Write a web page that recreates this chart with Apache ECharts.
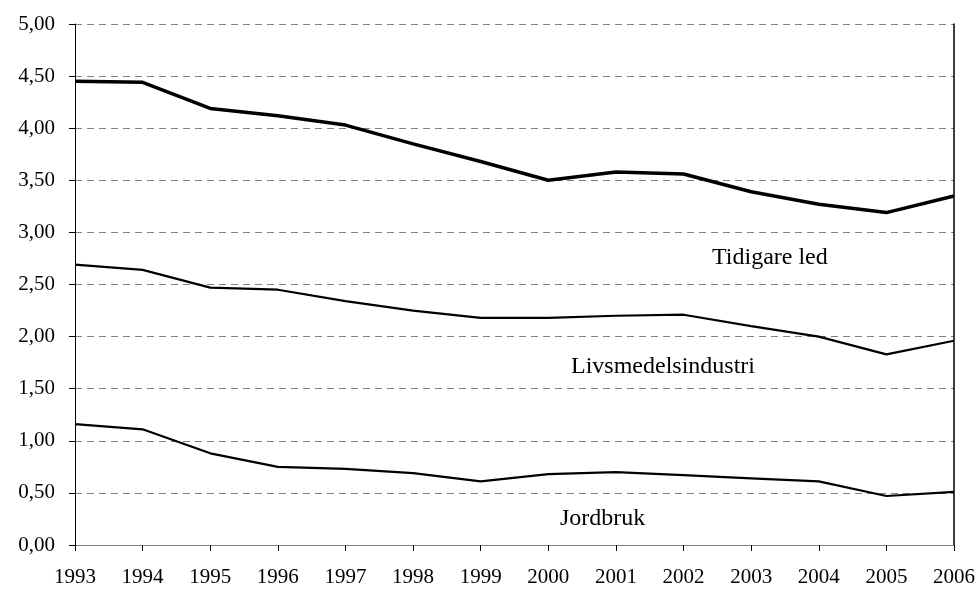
<!DOCTYPE html>
<html>
<head>
<meta charset="utf-8">
<script src="https://cdn.jsdelivr.net/npm/echarts@6/dist/echarts.min.js"></script>
<style>html,body{margin:0;padding:0;background:#fff;}#c{width:980px;height:589px;}</style>
</head>
<body>
<div id="c"></div>
<script>
const years = ['1993','1994','1995','1996','1997','1998','1999','2000','2001','2002','2003','2004','2005','2006'];
const tidigareLed = [4.45, 4.44, 4.19, 4.12, 4.03, 3.85, 3.68, 3.50, 3.58, 3.56, 3.39, 3.27, 3.19, 3.35];
const livsmedelsindustri = [2.69, 2.64, 2.47, 2.45, 2.34, 2.25, 2.18, 2.18, 2.20, 2.21, 2.10, 2.00, 1.83, 1.96];
const jordbruk = [1.16, 1.11, 0.88, 0.75, 0.73, 0.69, 0.61, 0.68, 0.70, 0.67, 0.64, 0.61, 0.47, 0.51];
const seriesNames = ['Tidigare led', 'Livsmedelsindustri', 'Jordbruk'];

const font = 'Liberation Serif';
const chart = echarts.init(document.getElementById('c'), null, {renderer: 'canvas'});
chart.setOption({
  animation: false,
  backgroundColor: '#fff',
  grid: {left: 75, right: 26, top: 24, bottom: 44, containLabel: false},
  xAxis: [{
    type: 'category', data: years, boundaryGap: false,
    axisLine: {lineStyle: {color: '#000', width: 1}},
    axisTick: {show: true, length: 6, lineStyle: {color: '#000'}},
    axisLabel: {color: '#000', fontFamily: font, fontSize: 21, margin: 22},
    splitLine: {show: false}
  }, {
    type: 'category', data: years, boundaryGap: false, position: 'top',
    axisLine: {show: true, lineStyle: {color: '#808080', width: 1}},
    axisTick: {show: false}, axisLabel: {show: false}, splitLine: {show: false}
  }],
  yAxis: [{
    type: 'value', min: 0, max: 5, interval: 0.5,
    axisLine: {show: true, lineStyle: {color: '#000', width: 1}},
    axisTick: {show: true, length: 6, lineStyle: {color: '#000'}},
    axisLabel: {color: '#000', fontFamily: font, fontSize: 21, margin: 20,
      formatter: v => v.toFixed(2).replace('.', ',')},
    splitLine: {show: true, lineStyle: {color: '#808080', type: [7, 5], width: 1}}
  }, {
    type: 'value', min: 0, max: 5, interval: 0.5, position: 'right',
    axisLine: {show: true, lineStyle: {color: '#000', width: 1.5}},
    axisTick: {show: false}, axisLabel: {show: false}, splitLine: {show: false}
  }],
  series: [
    {name: seriesNames[0], type: 'line', data: tidigareLed, symbol: 'none',
     lineStyle: {color: '#000', width: 3.5}, z: 5},
    {name: seriesNames[1], type: 'line', data: livsmedelsindustri, symbol: 'none',
     lineStyle: {color: '#000', width: 2.2}, z: 5},
    {name: seriesNames[2], type: 'line', data: jordbruk, symbol: 'none',
     lineStyle: {color: '#000', width: 2.2}, z: 5}
  ],
  graphic: [
    {type: 'text', left: 712, top: 246, style: {text: seriesNames[0], font: '24px "Liberation Serif"', fill: '#000'}},
    {type: 'text', left: 571, top: 355, style: {text: seriesNames[1], font: '24px "Liberation Serif"', fill: '#000'}},
    {type: 'text', left: 560, top: 507, style: {text: seriesNames[2], font: '24px "Liberation Serif"', fill: '#000'}}
  ]
});
</script>
</body>
</html>
